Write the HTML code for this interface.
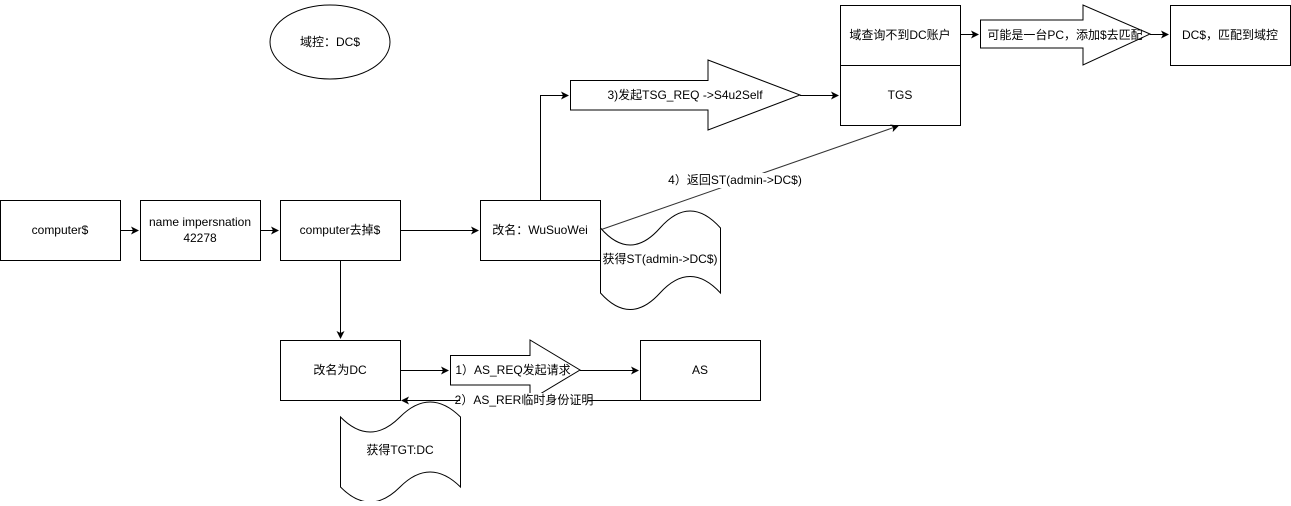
<!DOCTYPE html>
<html><head><meta charset="utf-8"><style>
body{margin:0;background:#fff}
svg text{font-family:"Liberation Sans","Noto Sans CJK SC",sans-serif;font-size:12px;fill:#000}
</style></head><body>
<svg width="1291" height="501" viewBox="0 0 1291 501" xmlns="http://www.w3.org/2000/svg">
<defs><marker id="a" markerWidth="8" markerHeight="8" refX="7" refY="4" orient="auto" markerUnits="userSpaceOnUse"><path d="M0,0 L8,4 L0,8 L2,4 z" fill="#000"/></marker></defs>
<g fill="#fff" stroke="#000" stroke-width="1">
<ellipse cx="330" cy="42" rx="60" ry="37"/>
<rect x="0.5" y="200.5" width="120" height="60"/>
<rect x="140.5" y="200.5" width="120" height="60"/>
<rect x="280.5" y="200.5" width="120" height="60"/>
<rect x="480.5" y="200.5" width="120" height="60"/>
<rect x="840.5" y="5.5" width="120" height="60"/>
<rect x="840.5" y="65.5" width="120" height="60"/>
<rect x="1170.5" y="5.5" width="120" height="60"/>
<rect x="280.5" y="340.5" width="120" height="60"/>
<rect x="640.5" y="340.5" width="120" height="60"/>
<path d="M570.5,80.5 H708 V60 L800,95 L708,130 V110 H570.5 Z"/>
<path d="M980.5,20 H1083 V5 L1150,34 L1083,65 V48 H980.5 Z"/>
<path d="M450.5,355.5 H530 V340 L580,370 L530,400 V385 H450.5 Z"/>
<path d="M600.5,228 Q630,262 660,228 T720.5,228 V293 Q690,260 660,293 T600.5,293 Z"/>
<path d="M340.5,417 Q370,447 400,417 T460.5,417 V487 Q430,457 400,487 T340.5,487 Z"/>
</g>
<g stroke="#000" fill="none">
<path d="M120,230.5 H138" marker-end="url(#a)"/>
<path d="M260,230.5 H278" marker-end="url(#a)"/>
<path d="M400,230.5 H478" marker-end="url(#a)"/>
<path d="M540.5,200 V95.5 H568" marker-end="url(#a)"/>
<path d="M800,95.5 H838" marker-end="url(#a)"/>
<path d="M960,34.5 H978" marker-end="url(#a)"/>
<path d="M1150,34.5 H1168" marker-end="url(#a)"/>
<path d="M600,230 L898,126" marker-end="url(#a)" stroke="#333"/>
<path d="M340.5,260 V338" marker-end="url(#a)"/>
<path d="M400,370.5 H448" marker-end="url(#a)"/>
<path d="M580,370.5 H638" marker-end="url(#a)"/>
<path d="M640,400.5 H402" marker-end="url(#a)"/>
</g>
<rect x="460" y="393" width="128" height="15" fill="#fff"/>
<rect x="683" y="173" width="104" height="15" fill="#fff"/>
<g text-anchor="middle" dominant-baseline="central">
<text x="330" y="42">域控：DC$</text>
<text x="60" y="230">computer$</text>
<text x="200" y="222">name impersnation</text>
<text x="200" y="238">42278</text>
<text x="340" y="230">computer去掉$</text>
<text x="540" y="230">改名：WuSuoWei</text>
<text x="900" y="35">域查询不到DC账户</text>
<text x="900" y="95">TGS</text>
<text x="1230" y="35">DC$，匹配到域控</text>
<text x="1065" y="35">可能是一台PC，添加$去匹配</text>
<text x="685" y="95">3)发起TSG_REQ -&gt;S4u2Self</text>
<text x="735" y="180" font-size="11">4）返回ST(admin-&gt;DC$)</text>
<text x="660" y="259">获得ST(admin-&gt;DC$)</text>
<text x="340" y="370">改名为DC</text>
<text x="700" y="370">AS</text>
<text x="513" y="370">1）AS_REQ发起请求</text>
<text x="524" y="400" font-size="11">2）AS_RER临时身份证明</text>
<text x="400" y="450">获得TGT:DC</text>
</g>
</svg>
</body></html>
